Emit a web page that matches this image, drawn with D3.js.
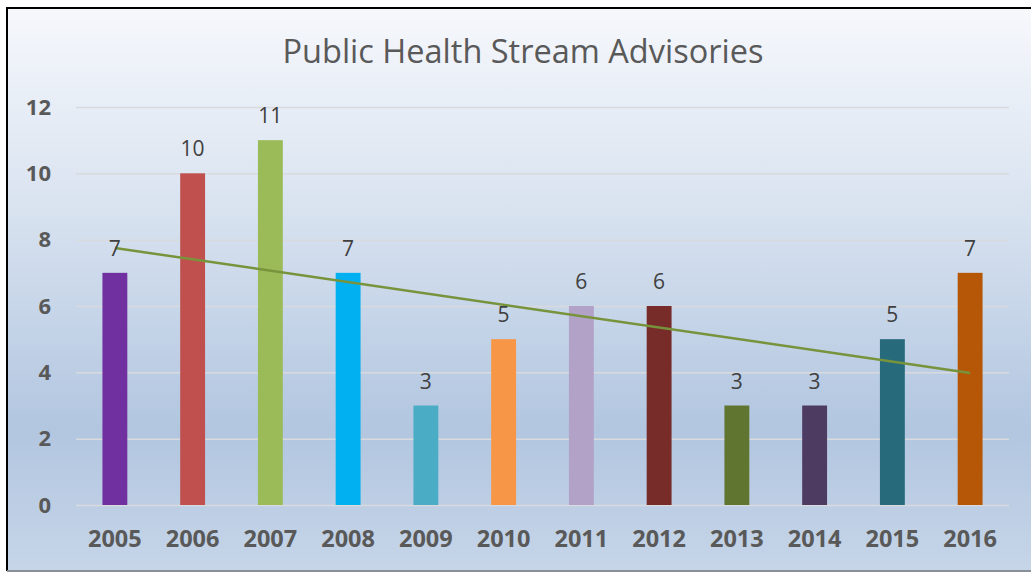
<!DOCTYPE html>
<html>
<head>
<meta charset="utf-8">
<script src="https://cdn.jsdelivr.net/npm/d3@7"></script>
<style>
  body { margin: 0; background: #fff; }
  svg { display: block; }
</style>
</head>
<body>
<svg id="chart"></svg>
<script>
// Chart data
const years = ["2005", "2006", "2007", "2008", "2009", "2010", "2011", "2012", "2013", "2014", "2015", "2016"];
const advisories = [7, 10, 11, 7, 3, 5, 6, 6, 3, 3, 5, 7];
const barColors = ["#7030A0", "#C0504D", "#9BBB59", "#00B0F0", "#4BACC6", "#F79646",
                   "#B3A2C7", "#772C2A", "#5F7530", "#4D3B62", "#276A7C", "#B65708"];
const yTicks = [0, 2, 4, 6, 8, 10, 12];
// Trend line end values
const trendValues = [7.75, 3.98];
const title = "Public Health Stream Advisories";

const width = 1031;
const height = 572;
const margin = { top: 107, right: 22, bottom: 67, left: 76 };

const svg = d3.select("#chart")
  .attr("width", width)
  .attr("height", height);

// Background gradient
const defs = svg.append("defs");
const grad = defs.append("linearGradient")
  .attr("id", "bg")
  .attr("x1", 0).attr("y1", 0).attr("x2", 0).attr("y2", 1);
grad.append("stop").attr("offset", "0%").attr("stop-color", "#F6F8FC");
grad.append("stop").attr("offset", "35%").attr("stop-color", "#D9E3F0");
grad.append("stop").attr("offset", "75%").attr("stop-color", "#B2C6E0");
grad.append("stop").attr("offset", "100%").attr("stop-color", "#C6D5E8");

svg.append("rect")
  .attr("x", 7).attr("y", 8)
  .attr("width", width - 7).attr("height", height - 10)
  .attr("fill", "url(#bg)");

// Frame
svg.append("line").attr("x1", 7).attr("x2", width).attr("y1", 8).attr("y2", 8)
  .attr("stroke", "#000").attr("stroke-width", 2);
svg.append("line").attr("x1", 7).attr("x2", 7).attr("y1", 7).attr("y2", height - 1)
  .attr("stroke", "#000").attr("stroke-width", 2);
svg.append("line").attr("x1", 7).attr("x2", width).attr("y1", height - 1).attr("y2", height - 1)
  .attr("stroke", "#8A9099").attr("stroke-width", 2);

// Scales
const x = d3.scaleBand()
  .domain(years)
  .range([margin.left, width - margin.right])
  .paddingInner(0.68)
  .paddingOuter(0.34);

const y = d3.scaleLinear()
  .domain([0, 12])
  .range([505, margin.top]);

// Title
svg.append("text")
  .attr("x", 523)
  .attr("y", 63)
  .attr("text-anchor", "middle")
  .style("font-family", "'Open Sans', sans-serif")
  .style("font-size", "32.5px")
  .style("fill", "#595959")
  .text(title);

// Gridlines
const yAxis = d3.axisLeft(y)
  .tickValues(yTicks)
  .tickSize(-(width - margin.right - margin.left))
  .tickPadding(25);

const gy = svg.append("g")
  .attr("transform", `translate(${margin.left},0)`)
  .call(yAxis);
gy.select(".domain").remove();
gy.selectAll(".tick line")
  .attr("stroke", "#D8DADD")
  .attr("stroke-width", 1.5);
gy.selectAll(".tick text")
  .style("font-family", "'Open Sans', sans-serif")
  .style("font-size", "22px")
  .style("font-weight", "bold")
  .style("fill", "#595959");

// X axis labels
const xAxis = d3.axisBottom(x).tickSize(0).tickPadding(25);
const gx = svg.append("g")
  .attr("transform", `translate(0,${y(0)})`)
  .call(xAxis);
gx.select(".domain").remove();
gx.selectAll(".tick text")
  .style("font-family", "'Open Sans', sans-serif")
  .style("font-size", "23.5px")
  .style("font-weight", "bold")
  .style("fill", "#595959");

// Bars
svg.selectAll(".bar")
  .data(advisories)
  .enter()
  .append("rect")
  .attr("class", "bar")
  .attr("x", (d, i) => x(years[i]))
  .attr("y", d => y(d))
  .attr("width", x.bandwidth())
  .attr("height", d => y(0) - y(d))
  .attr("fill", (d, i) => barColors[i]);

// Trend line
const line = d3.line()
  .x((d, i) => x(i === 0 ? years[0] : years[years.length - 1]) + x.bandwidth() / 2)
  .y(d => y(d));

svg.append("path")
  .datum(trendValues)
  .attr("d", line)
  .attr("fill", "none")
  .attr("stroke", "#77933C")
  .attr("stroke-width", 2.5);

// Data labels
svg.selectAll(".label")
  .data(advisories)
  .enter()
  .append("text")
  .attr("class", "label")
  .attr("x", (d, i) => x(years[i]) + x.bandwidth() / 2)
  .attr("y", d => y(d) - 17)
  .attr("text-anchor", "middle")
  .style("font-family", "'Open Sans', sans-serif")
  .style("font-size", "21px")
  .style("fill", "#404040")
  .text(d => d);
</script>
</body>
</html>
